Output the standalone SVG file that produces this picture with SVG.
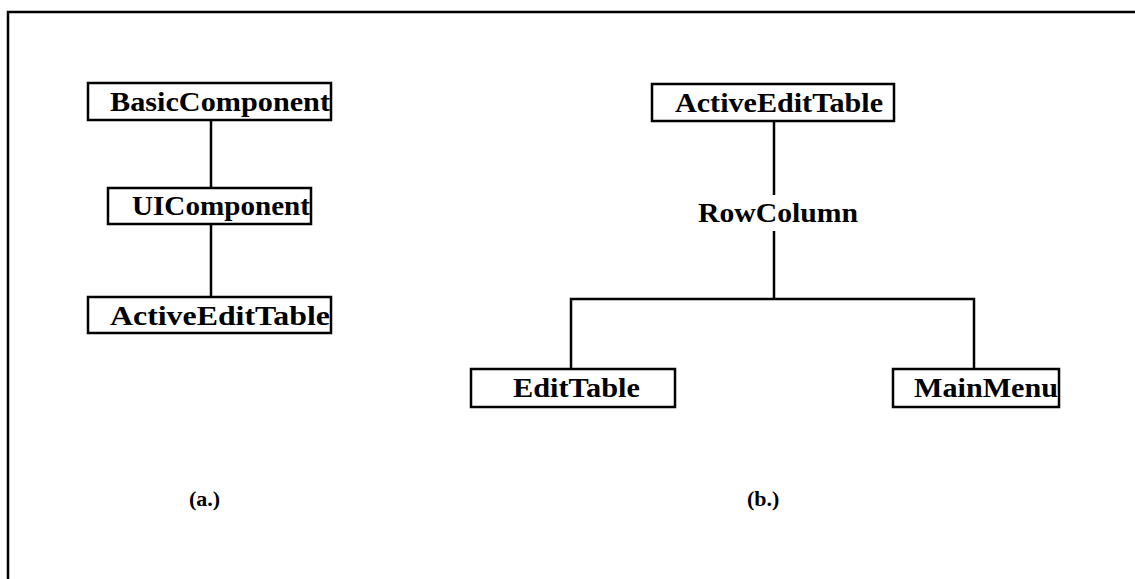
<svg xmlns="http://www.w3.org/2000/svg" width="1135" height="579" viewBox="0 0 1135 579">
<style>
.box{fill:#fff;stroke:#000;stroke-width:2.5}
.lbl{font-family:"Liberation Serif","Times New Roman",serif;font-weight:bold;font-size:27px;fill:#000}
.cap{font-family:"Liberation Serif","Times New Roman",serif;font-weight:bold;font-size:22px;fill:#000}
.ln{stroke:#000;stroke-width:2.5;fill:none}
</style>
<rect width="1135" height="579" fill="#fff"/>
<g id="frame"><path class="ln" d="M8,579 V12 H1135"/></g>
<g id="connectors">
<path class="ln" d="M211,120 V188"/>
<path class="ln" d="M211,224 V297"/>
<path class="ln" d="M774,121 V195"/>
<path class="ln" d="M774,231 V299"/>
<path class="ln" d="M571,369 V299 H974 V369"/>
</g>
<g id="a-basic"><rect class="box" x="88" y="83" width="243" height="37"/><text class="lbl" x="110" y="111" textLength="220" lengthAdjust="spacingAndGlyphs">BasicComponent</text></g>
<g id="a-ui"><rect class="box" x="108" y="188" width="203" height="36"/><text class="lbl" x="132" y="215" textLength="178" lengthAdjust="spacingAndGlyphs">UIComponent</text></g>
<g id="a-aet"><rect class="box" x="88" y="297" width="243" height="36"/><text class="lbl" x="110" y="325" textLength="220" lengthAdjust="spacingAndGlyphs">ActiveEditTable</text></g>
<g id="b-aet"><rect class="box" x="652" y="84" width="242" height="37"/><text class="lbl" x="675" y="112" textLength="208" lengthAdjust="spacingAndGlyphs">ActiveEditTable</text></g>
<g id="b-rowcolumn"><text class="lbl" x="698" y="222" textLength="160" lengthAdjust="spacingAndGlyphs">RowColumn</text></g>
<g id="b-edittable"><rect class="box" x="471" y="369" width="204" height="38"/><text class="lbl" x="513" y="397" textLength="127" lengthAdjust="spacingAndGlyphs">EditTable</text></g>
<g id="b-mainmenu"><rect class="box" x="893" y="369" width="166" height="38"/><text class="lbl" x="914" y="397" textLength="144" lengthAdjust="spacingAndGlyphs">MainMenu</text></g>
<g id="captions"><text class="cap" x="189" y="506">(a.)</text><text class="cap" x="747" y="506">(b.)</text></g>
</svg>
